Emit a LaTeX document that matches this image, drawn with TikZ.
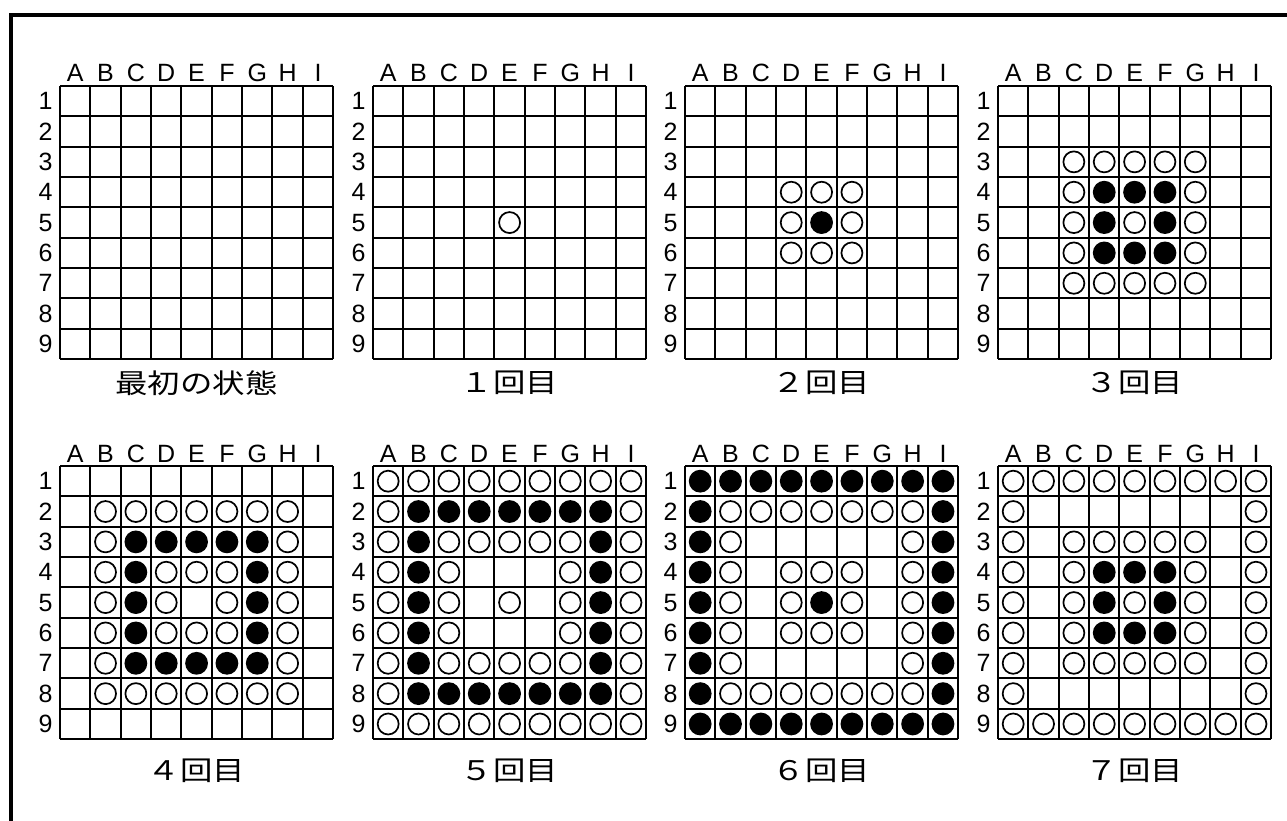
\documentclass[tikz,border=0pt]{standalone}
\usepackage{fontspec}
\newfontfamily\lblfont{Liberation Sans}
\newfontfamily\jpfont[FakeStretch=1.2]{Noto Sans CJK JP}
\newcommand\cellsz{30.35}
\tikzset{
  gridln/.style={line width=1.6pt, draw=black},
  lbl/.style={font=\lblfont\fontsize{25}{25}\selectfont, inner sep=0pt},
  stonew/.style={circle, draw=black, line width=1.7pt, fill=white, minimum size=21pt, inner sep=0pt},
  stoneb/.style={circle, fill=black, minimum size=22.8pt, inner sep=0pt},
  stonen/.style={inner sep=0pt, minimum size=0pt},
  bdcap/.style={font=\jpfont\fontsize{27}{27}\selectfont, inner sep=0pt},
}
% #1 name, #2 left, #3 top, #4 caption, #5 rows (w/b/n), #6 caption gap
\newcommand{\drawboard}[6]{%
  \begin{scope}[shift={(#2,#3)}]
    \foreach \i in {0,...,9} {
      \pgfmathsetmacro\gx{round(#2+\i*\cellsz)-#2}
      \pgfmathsetmacro\gy{round(#3+\i*\cellsz)-#3}
      \draw[gridln] (\gx,0) -- (\gx,9*\cellsz);
      \draw[gridln] (0,\gy) -- (9*\cellsz,\gy);
    }
    \foreach \l [count=\col] in {A,...,I}
      \node[lbl, anchor=base] (#1-c\col) at ({(\col-0.5)*\cellsz},-4) {\l};
    \foreach \rw in {1,...,9}
      \node[lbl] (#1-r\rw) at (-14.5,{(\rw-0.5)*\cellsz}) {\rw};
    \foreach \rowdata [count=\rw] in {#5}
      \foreach \s [count=\col] in \rowdata
        \node[stone\s] (#1-\col-\rw) at ({(\col-0.5)*\cellsz},{(\rw-0.5)*\cellsz}) {};
    \node[bdcap] (#1-cap) at (4.5*\cellsz,9*\cellsz+#6) {#4};
  \end{scope}}

\begin{document}
\begin{tikzpicture}[x=1pt, y=-1pt]
  \useasboundingbox (0,0) rectangle (1287,821);
  \draw[line width=4pt] (11,821) -- (11,14.7) -- (1287,14.7);

  \drawboard{bd0}{60}{86}{最初の状態}{
    {n,n,n,n,n,n,n,n,n},{n,n,n,n,n,n,n,n,n},{n,n,n,n,n,n,n,n,n},
    {n,n,n,n,n,n,n,n,n},{n,n,n,n,n,n,n,n,n},{n,n,n,n,n,n,n,n,n},
    {n,n,n,n,n,n,n,n,n},{n,n,n,n,n,n,n,n,n},{n,n,n,n,n,n,n,n,n}}{24}
  \drawboard{bd1}{373}{86}{１回目}{
    {n,n,n,n,n,n,n,n,n},{n,n,n,n,n,n,n,n,n},{n,n,n,n,n,n,n,n,n},
    {n,n,n,n,n,n,n,n,n},{n,n,n,n,w,n,n,n,n},{n,n,n,n,n,n,n,n,n},
    {n,n,n,n,n,n,n,n,n},{n,n,n,n,n,n,n,n,n},{n,n,n,n,n,n,n,n,n}}{24}
  \drawboard{bd2}{685}{86}{２回目}{
    {n,n,n,n,n,n,n,n,n},{n,n,n,n,n,n,n,n,n},{n,n,n,n,n,n,n,n,n},
    {n,n,n,w,w,w,n,n,n},{n,n,n,w,b,w,n,n,n},{n,n,n,w,w,w,n,n,n},
    {n,n,n,n,n,n,n,n,n},{n,n,n,n,n,n,n,n,n},{n,n,n,n,n,n,n,n,n}}{24}
  \drawboard{bd3}{998}{86}{３回目}{
    {n,n,n,n,n,n,n,n,n},{n,n,n,n,n,n,n,n,n},{n,n,w,w,w,w,w,n,n},
    {n,n,w,b,b,b,w,n,n},{n,n,w,b,w,b,w,n,n},{n,n,w,b,b,b,w,n,n},
    {n,n,w,w,w,w,w,n,n},{n,n,n,n,n,n,n,n,n},{n,n,n,n,n,n,n,n,n}}{24}

  \drawboard{bd4}{60}{466}{４回目}{
    {n,n,n,n,n,n,n,n,n},{n,w,w,w,w,w,w,w,n},{n,w,b,b,b,b,b,w,n},
    {n,w,b,w,w,w,b,w,n},{n,w,b,w,n,w,b,w,n},{n,w,b,w,w,w,b,w,n},
    {n,w,b,b,b,b,b,w,n},{n,w,w,w,w,w,w,w,n},{n,n,n,n,n,n,n,n,n}}{32}
  \drawboard{bd5}{373}{466}{５回目}{
    {w,w,w,w,w,w,w,w,w},{w,b,b,b,b,b,b,b,w},{w,b,w,w,w,w,w,b,w},
    {w,b,w,n,n,n,w,b,w},{w,b,w,n,w,n,w,b,w},{w,b,w,n,n,n,w,b,w},
    {w,b,w,w,w,w,w,b,w},{w,b,b,b,b,b,b,b,w},{w,w,w,w,w,w,w,w,w}}{32}
  \drawboard{bd6}{685}{466}{６回目}{
    {b,b,b,b,b,b,b,b,b},{b,w,w,w,w,w,w,w,b},{b,w,n,n,n,n,n,w,b},
    {b,w,n,w,w,w,n,w,b},{b,w,n,w,b,w,n,w,b},{b,w,n,w,w,w,n,w,b},
    {b,w,n,n,n,n,n,w,b},{b,w,w,w,w,w,w,w,b},{b,b,b,b,b,b,b,b,b}}{32}
  \drawboard{bd7}{998}{466}{７回目}{
    {w,w,w,w,w,w,w,w,w},{w,n,n,n,n,n,n,n,w},{w,n,w,w,w,w,w,n,w},
    {w,n,w,b,b,b,w,n,w},{w,n,w,b,w,b,w,n,w},{w,n,w,b,b,b,w,n,w},
    {w,n,w,w,w,w,w,n,w},{w,n,n,n,n,n,n,n,w},{w,w,w,w,w,w,w,w,w}}{32}
\end{tikzpicture}
\end{document}
